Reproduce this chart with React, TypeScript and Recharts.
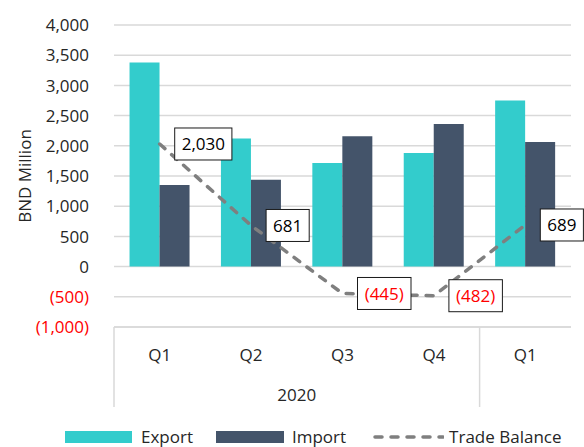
import React from 'react';
import {
  ComposedChart,
  Bar,
  Line,
  XAxis,
  YAxis,
  CartesianGrid,
  Legend,
  LabelList,
  Label,
} from 'recharts';

// categories (two-level x axis)
const quarters = ['Q1', 'Q2', 'Q3', 'Q4', 'Q1'];
const yearGroups = ['2020', '2020', '2020', '2020', ''];

// series, BND million
const exportValues = [3380, 2120, 1715, 1880, 2750];
const importValues = [1350, 1439, 2160, 2362, 2061];
const tradeBalance = [2030, 681, -445, -482, 689];

const yTicks = [-1000, -500, 0, 500, 1000, 1500, 2000, 2500, 3000, 3500, 4000];

const data = quarters.map((q, i) => ({
  quarter: q,
  Export: exportValues[i],
  Import: importValues[i],
  'Trade Balance': tradeBalance[i],
}));

const W = 584;
const H = 447;
const MARGIN = { top: 25, right: 13, left: 0, bottom: 0 };
const Y_AXIS_W = 114;
const BAND = (W - MARGIN.left - MARGIN.right - Y_AXIS_W) / quarters.length;

const FONT = '"Open Sans", "Noto Sans", sans-serif';
const TEXT = '#262626';
const GRID = '#d9d9d9';
const EXPORT_COLOR = '#33cccc';
const IMPORT_COLOR = '#44546a';
const LINE_COLOR = '#7f7f7f';

const fmt = (v: number) =>
  v < 0 ? `(${Math.abs(v).toLocaleString('en-US')})` : v.toLocaleString('en-US');

// rough text width for Open Sans 17px
const textWidth = (s: string) =>
  s.split('').reduce((w, c) => w + (c === ',' ? 4.4 : c === '(' || c === ')' ? 5.2 : 9.7), 0);

const YTick = (props: any) => {
  const { x, y, payload } = props;
  const v = payload.value as number;
  return (
    <text
      x={x}
      y={y}
      dy="0.36em"
      textAnchor="end"
      fontFamily={FONT}
      fontSize={17}
      fill={v < 0 ? '#ff0000' : TEXT}
    >
      {fmt(v)}
    </text>
  );
};

const XTick = (props: any) => {
  const { x, y, index, payload } = props;
  const left = x - BAND / 2;
  const isGroupStart = index === 0 || yearGroups[index] !== yearGroups[index - 1];
  let span = 0;
  if (isGroupStart) {
    while (index + span < yearGroups.length && yearGroups[index + span] === yearGroups[index]) span++;
  }
  return (
    <g>
      <text x={x} y={y + 34} textAnchor="middle" fontFamily={FONT} fontSize={17} fill={TEXT}>
        {payload.value}
      </text>
      {isGroupStart && (
        <line x1={left} x2={left} y1={y} y2={y + 80} stroke={GRID} strokeWidth={1.5} />
      )}
      {isGroupStart && yearGroups[index] && (
        <text
          x={left + (span * BAND) / 2}
          y={y + 74}
          textAnchor="middle"
          fontFamily={FONT}
          fontSize={17}
          fill={TEXT}
        >
          {yearGroups[index]}
        </text>
      )}
    </g>
  );
};

const YLabel = (props: any) => {
  const { viewBox } = props;
  const cx = viewBox.x + 24;
  const cy = viewBox.y + viewBox.height / 2;
  return (
    <text
      x={cx}
      y={cy}
      transform={`rotate(-90 ${cx} ${cy})`}
      textAnchor="middle"
      dominantBaseline="central"
      fontFamily={FONT}
      fontSize={17}
      fill={TEXT}
    >
      BND Million
    </text>
  );
};

const BalanceLabel = (props: any) => {
  const { x, y, value } = props;
  const s = fmt(value);
  const w = textWidth(s) + 14;
  const bx = x + 15;
  return (
    <g>
      <rect x={bx} y={y - 16} width={w} height={32} fill="#fff" stroke="#1a1a1a" strokeWidth={1} />
      <text
        x={bx + w / 2}
        y={y}
        dy="0.36em"
        textAnchor="middle"
        fontFamily={FONT}
        fontSize={17}
        fill={value < 0 ? '#ff0000' : '#000'}
      >
        {s}
      </text>
    </g>
  );
};

const LegendContent = () => (
  <div
    style={{
      display: 'flex',
      alignItems: 'center',
      height: 40,
      paddingTop: 20,
      paddingLeft: 65,
      boxSizing: 'border-box',
      fontFamily: FONT,
      fontSize: 17,
      lineHeight: '24px',
      color: TEXT,
    }}
  >
    <span style={{ width: 67, height: 12, background: EXPORT_COLOR, marginRight: 9 }} />
    <span style={{ marginRight: 23 }}>Export</span>
    <span style={{ width: 68, height: 12, background: IMPORT_COLOR, marginRight: 8 }} />
    <span style={{ marginRight: 27 }}>Import</span>
    <svg width={71} height={12} style={{ marginRight: 5 }}>
      <line
        x1={2}
        y1={6}
        x2={70}
        y2={6}
        stroke={LINE_COLOR}
        strokeWidth={3.5}
        strokeDasharray="7 9"
        strokeLinecap="round"
      />
    </svg>
    <span>Trade Balance</span>
  </div>
);

export default function App() {
  return (
    <div style={{ position: 'absolute', left: 0, top: 0, width: W, height: H, background: '#fff' }}>
      <ComposedChart
        width={W}
        height={H}
        data={data}
        margin={MARGIN}
        barCategoryGap="17%"
        barGap={0}
      >
        <CartesianGrid horizontal vertical={false} stroke={GRID} strokeWidth={1.5} />
        <XAxis
          dataKey="quarter"
          height={80}
          interval={0}
          tickLine={false}
          tickSize={0}
          tickMargin={0}
          axisLine={{ stroke: GRID, strokeWidth: 1.5 }}
          tick={<XTick />}
        />
        <YAxis
          width={Y_AXIS_W}
          domain={[-1000, 4000]}
          ticks={yTicks}
          interval={0}
          axisLine={false}
          tickLine={false}
          tickSize={0}
          tickMargin={25}
          tick={<YTick />}
        >
          <Label content={<YLabel />} />
        </YAxis>
        <Legend
          verticalAlign="bottom"
          wrapperStyle={{ left: 0, bottom: 0, width: W, height: 40 }}
          content={<LegendContent />}
        />
        <Bar dataKey="Export" fill={EXPORT_COLOR} isAnimationActive={false} />
        <Bar dataKey="Import" fill={IMPORT_COLOR} isAnimationActive={false} />
        <Line
          type="linear"
          dataKey="Trade Balance"
          stroke={LINE_COLOR}
          strokeWidth={3.5}
          strokeDasharray="7 9"
          strokeLinecap="round"
          strokeLinejoin="round"
          dot={false}
          activeDot={false}
          isAnimationActive={false}
        >
          <LabelList dataKey="Trade Balance" content={<BalanceLabel />} />
        </Line>
      </ComposedChart>
    </div>
  );
}
